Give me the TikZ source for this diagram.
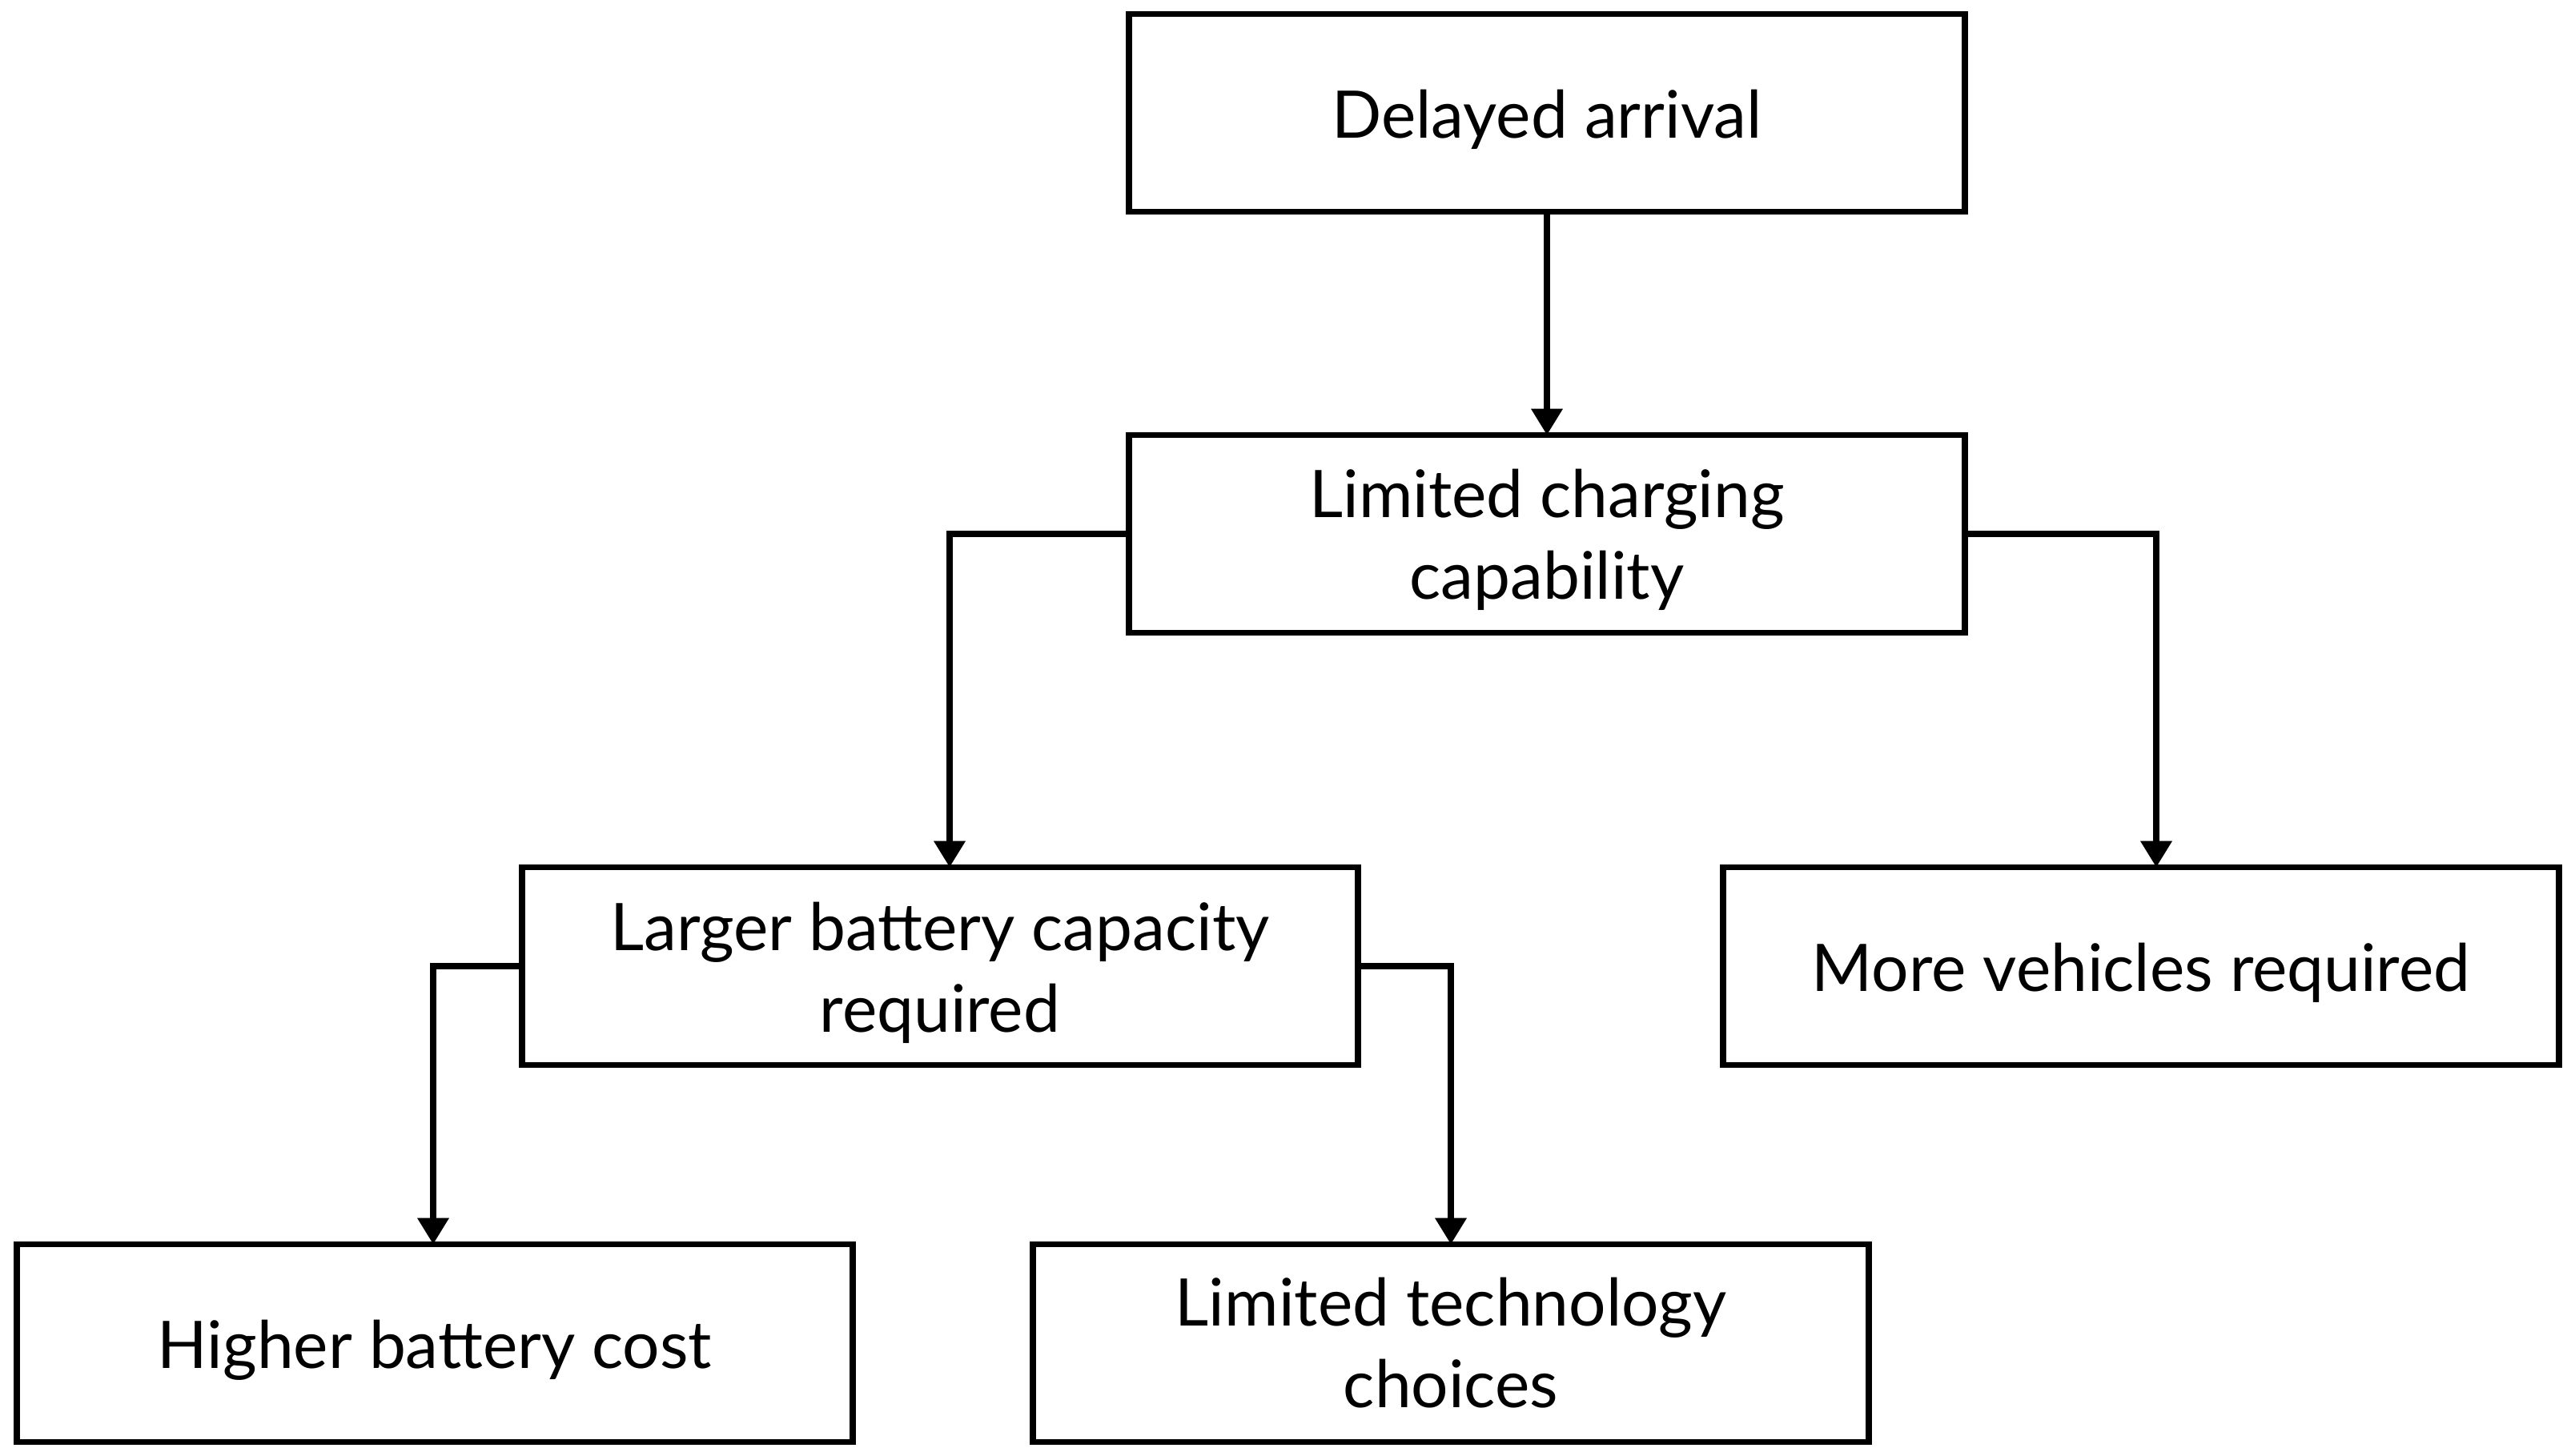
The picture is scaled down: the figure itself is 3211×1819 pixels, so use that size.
\documentclass[tikz,border=0pt]{standalone}
\usepackage{fontspec}
\setmainfont{Lato}
\usetikzlibrary{arrows.meta}
\tikzset{
  box/.style={draw=black, line width=7.5pt, minimum width=1044pt, minimum height=247pt,
    align=center, inner sep=0pt, outer sep=0pt, font=\fontsize{82}{102}\selectfont, fill=white,
    execute at begin node={\rule{0pt}{78pt}}},
  arr/.style={line width=7.5pt, -{Triangle[width=38pt,length=33pt]}}
}
\begin{document}
\begin{tikzpicture}[x=1pt,y=-1pt]
\useasboundingbox[fill=white] (0,0) rectangle (3211,1819);
\node[box] (da) at (1932,141) {Delayed arrival};
\node[box] (lcc) at (1932,667) {\rule{0pt}{76pt}Limited charging\\capability};
\node[box] (lbc) at (1174,1207) {\rule{0pt}{78pt}Larger battery capacity\\required};
\node[box] (mvr) at (2674,1207) {More vehicles required};
\node[box] (hbc) at (543,1678) {Higher battery cost};
\node[box] (ltc) at (1812,1678) {Limited technology\\choices};
\draw[arr] (da.south) -- (lcc.north);
\draw[arr] (lcc.west) -| ([xshift=12pt]lbc.north);
\draw[arr] (lcc.east) -| ([xshift=19pt]mvr.north);
\draw[arr] (lbc.west) -| ([xshift=-2pt]hbc.north);
\draw[arr] (lbc.east) -| (ltc.north);
\end{tikzpicture}
\end{document}
